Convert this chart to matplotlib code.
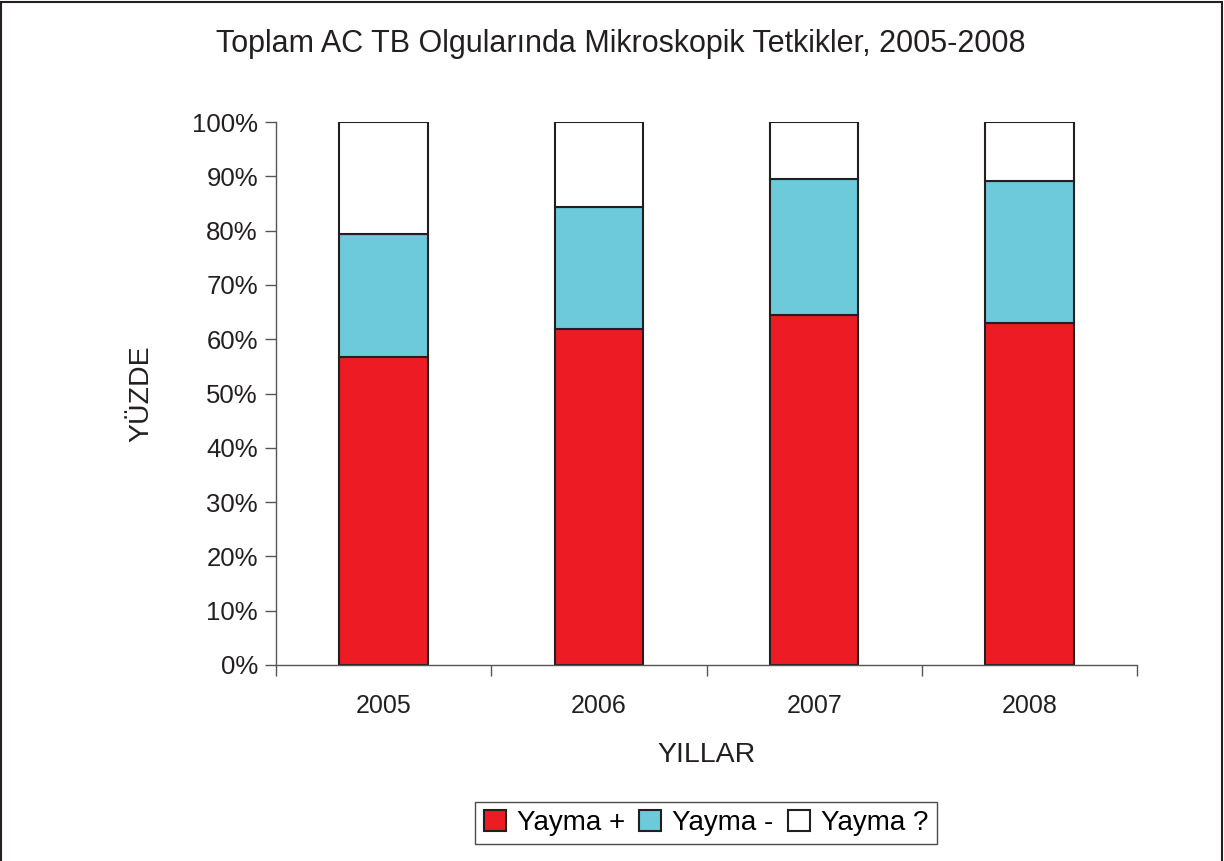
import numpy as np
import matplotlib
matplotlib.use("Agg")
import matplotlib.pyplot as plt
from matplotlib.patches import Rectangle

plt.rcParams['font.family'] = ['Liberation Sans', 'DejaVu Sans']

years = ["2005", "2006", "2007", "2008"]
yayma_pos = [56.8, 61.8, 64.4, 62.9]
yayma_neg = [22.5, 22.5, 25.1, 26.2]
yayma_unk = [20.7, 15.7, 10.5, 10.9]

red = "#ed1c24"
blue = "#6ccadb"

fig = plt.figure(figsize=(12.24, 8.61), dpi=100)
ax = fig.add_axes([276/1224, 1 - 665/861, (1137-276)/1224, (665-122)/861])

x = np.arange(len(years))
w = 0.41
bottom2 = np.array(yayma_pos) + np.array(yayma_neg)
ax.bar(x, yayma_pos, w, color=red, edgecolor="#231f20", linewidth=1.5, label="Yayma +")
ax.bar(x, yayma_neg, w, bottom=yayma_pos, color=blue, edgecolor="#231f20", linewidth=1.5, label="Yayma -")
ax.bar(x, yayma_unk, w, bottom=bottom2, color="white", edgecolor="#231f20", linewidth=1.5, label="Yayma ?")

ax.set_xlim(-0.5, len(years) - 0.5)
ax.set_ylim(0, 100)
ax.set_yticks(np.arange(0, 101, 10))
ax.set_yticklabels([f"{v}%" for v in range(0, 101, 10)], fontsize=18.5, color="#231f20")
ax.set_xticks(x)
ax.set_xticklabels(years, fontsize=18, color="#231f20")
ax.tick_params(axis="x", length=0, pad=21)
ax.set_xticks(np.arange(-0.5, len(years)), minor=True)
ax.tick_params(axis="x", which="minor", length=8, width=1, color="#555555", direction="out")
ax.tick_params(axis="y", length=8, width=1, color="#555555", direction="out", pad=5)
for s in ["top", "right"]:
    ax.spines[s].set_visible(False)
for s in ["left", "bottom"]:
    ax.spines[s].set_color("#555555")
    ax.spines[s].set_linewidth(1)

ax.set_xlabel("YILLAR", fontsize=20.5, labelpad=17, color="#231f20")
ax.set_ylabel("YÜZDE", fontsize=20.5, labelpad=27, color="#231f20")

fig.text(621/1224, 1 - 44/861, "Toplam AC TB Olgularında Mikroskopik Tetkikler, 2005-2008",
         fontsize=22, ha="center", va="center", color="#231f20")

leg = fig.legend(loc="center", bbox_to_anchor=(706/1224, 1 - 823/861), ncol=3,
                 fontsize=20, frameon=True, fancybox=False, edgecolor="#231f20",
                 handlelength=0.8, handleheight=0.8, handletextpad=0.4, columnspacing=0.5,
                 borderpad=0.3)
leg.get_frame().set_linewidth(1)

fig.patches.append(Rectangle((0.001, -0.01), 0.997, 1.008, transform=fig.transFigure,
                             fill=False, edgecolor="#231f20", linewidth=1.5))

fig.savefig("out.png", dpi=100)
